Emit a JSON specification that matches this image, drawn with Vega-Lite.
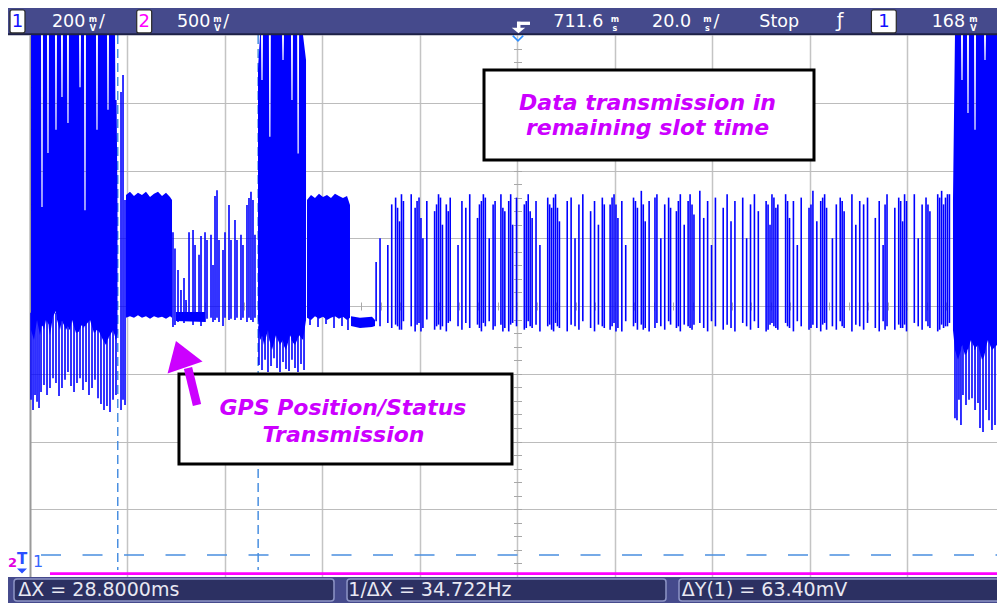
{
  "$schema": "https://vega.github.io/schema/vega-lite/v6.json",
  "width": 967,
  "height": 542,
  "autosize": "none",
  "padding": {"left": 30, "top": 35, "right": 0, "bottom": 26},
  "background": "#ffffff",
  "config": {"view": {"stroke": null}, "text": {"font": "DejaVu Sans"}},
  "data": {"values": [{}]},
  "datasets": {
    "env": [
      {"seg":"A","t":0.21,"hi":800,"lo":-71},{"seg":"A","t":0.82,"hi":800,"lo":-100},{"seg":"A","t":1.44,"hi":800,"lo":-41},{"seg":"A","t":2.05,"hi":800,"lo":-86},
      {"seg":"A","t":2.26,"hi":800,"lo":-70},{"seg":"A","t":2.34,"hi":292,"lo":-60},{"seg":"A","t":2.58,"hi":292,"lo":-58},{"seg":"A","t":2.66,"hi":800,"lo":-62},
      {"seg":"A","t":2.87,"hi":800,"lo":-71},{"seg":"A","t":3.28,"hi":800,"lo":-41},
      {"seg":"A","t":3.49,"hi":800,"lo":-50},{"seg":"A","t":3.57,"hi":452,"lo":-45},{"seg":"A","t":3.81,"hi":452,"lo":-55},{"seg":"A","t":3.89,"hi":800,"lo":-70},
      {"seg":"A","t":4.10,"hi":800,"lo":-86},{"seg":"A","t":4.72,"hi":800,"lo":-30},
      {"seg":"A","t":5.13,"hi":800,"lo":-20},{"seg":"A","t":5.21,"hi":520,"lo":-15},{"seg":"A","t":5.45,"hi":520,"lo":-25},{"seg":"A","t":5.53,"hi":800,"lo":-40},
      {"seg":"A","t":5.74,"hi":800,"lo":-50},{"seg":"A","t":6.15,"hi":800,"lo":-71},
      {"seg":"A","t":6.36,"hi":800,"lo":-55},{"seg":"A","t":6.44,"hi":617,"lo":-45},{"seg":"A","t":6.68,"hi":617,"lo":-45},{"seg":"A","t":6.76,"hi":800,"lo":-50},
      {"seg":"A","t":6.97,"hi":800,"lo":-56},{"seg":"A","t":7.38,"hi":800,"lo":-71},
      {"seg":"A","t":7.59,"hi":800,"lo":-65},{"seg":"A","t":7.67,"hi":540,"lo":-60},{"seg":"A","t":7.91,"hi":540,"lo":-62},{"seg":"A","t":7.99,"hi":800,"lo":-68},
      {"seg":"A","t":8.21,"hi":800,"lo":-71},{"seg":"A","t":8.62,"hi":800,"lo":-41},{"seg":"A","t":9.44,"hi":800,"lo":-80},
      {"seg":"A","t":10.06,"hi":800,"lo":-75},{"seg":"A","t":10.14,"hi":646,"lo":-71},{"seg":"A","t":10.38,"hi":646,"lo":-65},{"seg":"A","t":10.46,"hi":800,"lo":-60},
      {"seg":"A","t":10.67,"hi":800,"lo":-56},
      {"seg":"A","t":11.08,"hi":800,"lo":-65},{"seg":"A","t":11.16,"hi":283,"lo":-60},{"seg":"A","t":11.40,"hi":283,"lo":-58},{"seg":"A","t":11.48,"hi":800,"lo":-55},
      {"seg":"A","t":12.31,"hi":800,"lo":-41},{"seg":"A","t":13.13,"hi":800,"lo":-80},
      {"seg":"A","t":13.54,"hi":800,"lo":-75},{"seg":"A","t":13.62,"hi":520,"lo":-71},{"seg":"A","t":13.86,"hi":520,"lo":-72},{"seg":"A","t":13.94,"hi":800,"lo":-74},
      {"seg":"A","t":14.15,"hi":800,"lo":-75},{"seg":"A","t":14.97,"hi":800,"lo":-100},{"seg":"A","t":15.59,"hi":800,"lo":-115},
      {"seg":"A","t":15.80,"hi":800,"lo":-108},{"seg":"A","t":15.88,"hi":579,"lo":-100},{"seg":"A","t":16.12,"hi":579,"lo":-95},{"seg":"A","t":16.20,"hi":800,"lo":-90},
      {"seg":"A","t":16.41,"hi":800,"lo":-86},{"seg":"A","t":17.03,"hi":800,"lo":-71},
      {"seg":"A","t":17.44,"hi":800,"lo":-90},{"seg":"A","t":17.52,"hi":608,"lo":-100},{"seg":"A","t":17.76,"hi":608,"lo":-95},{"seg":"A","t":17.95,"hi":300,"lo":-80},
      {"seg":"B","t":19.69,"hi":328,"lo":-35},{"seg":"B","t":20.51,"hi":337,"lo":-30},{"seg":"B","t":21.33,"hi":325,"lo":-35},{"seg":"B","t":22.15,"hi":334,"lo":-27},{"seg":"B","t":22.97,"hi":328,"lo":-35},{"seg":"B","t":23.79,"hi":337,"lo":-30},{"seg":"B","t":24.62,"hi":322,"lo":-38},{"seg":"B","t":25.44,"hi":331,"lo":-30},{"seg":"B","t":26.26,"hi":337,"lo":-35},{"seg":"B","t":27.08,"hi":325,"lo":-32},{"seg":"B","t":27.90,"hi":334,"lo":-38},{"seg":"B","t":28.72,"hi":322,"lo":-30},{"seg":"B","t":29.13,"hi":313,"lo":-35},
      {"seg":"G","t":29.95,"hi":-18,"lo":-44},{"seg":"G","t":35.90,"hi":-18,"lo":-47},
      {"seg":"C","t":46.77,"hi":700,"lo":-41},{"seg":"C","t":47.18,"hi":800,"lo":-100},
      {"seg":"C","t":47.39,"hi":800,"lo":-95},{"seg":"C","t":47.47,"hi":667,"lo":-90},{"seg":"C","t":47.71,"hi":667,"lo":-90},{"seg":"C","t":47.79,"hi":800,"lo":-100},
      {"seg":"C","t":48.00,"hi":800,"lo":-115},{"seg":"C","t":48.82,"hi":800,"lo":-71},
      {"seg":"C","t":49.00,"hi":800,"lo":-90},{"seg":"C","t":49.08,"hi":500,"lo":-100},{"seg":"C","t":49.32,"hi":500,"lo":-110},{"seg":"C","t":49.40,"hi":800,"lo":-120},
      {"seg":"C","t":49.64,"hi":800,"lo":-130},{"seg":"C","t":50.46,"hi":800,"lo":-86},{"seg":"C","t":51.28,"hi":800,"lo":-115},
      {"seg":"C","t":51.70,"hi":800,"lo":-105},{"seg":"C","t":51.78,"hi":726,"lo":-100},{"seg":"C","t":52.02,"hi":726,"lo":-110},{"seg":"C","t":52.10,"hi":800,"lo":-118},
      {"seg":"C","t":52.51,"hi":800,"lo":-130},{"seg":"C","t":53.33,"hi":800,"lo":-86},
      {"seg":"C","t":53.54,"hi":800,"lo":-92},{"seg":"C","t":53.62,"hi":608,"lo":-100},{"seg":"C","t":53.86,"hi":608,"lo":-105},{"seg":"C","t":53.94,"hi":800,"lo":-108},
      {"seg":"C","t":54.36,"hi":800,"lo":-115},
      {"seg":"C","t":54.80,"hi":800,"lo":-100},{"seg":"C","t":54.88,"hi":450,"lo":-95},{"seg":"C","t":55.12,"hi":450,"lo":-90},{"seg":"C","t":55.20,"hi":800,"lo":-86},
      {"seg":"C","t":56.00,"hi":800,"lo":-100},{"seg":"C","t":56.62,"hi":726,"lo":-41},
      {"seg":"D","t":56.82,"hi":313,"lo":-35},{"seg":"D","t":57.64,"hi":328,"lo":-41},{"seg":"D","t":58.46,"hi":319,"lo":-30},{"seg":"D","t":59.28,"hi":331,"lo":-38},{"seg":"D","t":60.10,"hi":322,"lo":-32},{"seg":"D","t":60.92,"hi":328,"lo":-41},{"seg":"D","t":61.74,"hi":319,"lo":-35},{"seg":"D","t":62.56,"hi":331,"lo":-30},{"seg":"D","t":63.38,"hi":325,"lo":-38},{"seg":"D","t":64.20,"hi":319,"lo":-32},{"seg":"D","t":65.03,"hi":325,"lo":-41},{"seg":"D","t":65.64,"hi":298,"lo":-35},
      {"seg":"E","t":65.85,"hi":-30,"lo":-59},{"seg":"E","t":67.69,"hi":-35,"lo":-65},{"seg":"E","t":70.15,"hi":-32,"lo":-62},{"seg":"E","t":70.77,"hi":-41,"lo":-59},
      {"seg":"F","t":189.33,"hi":313,"lo":-71},{"seg":"F","t":189.74,"hi":800,"lo":-130},{"seg":"F","t":190.36,"hi":800,"lo":-159},
      {"seg":"F","t":190.98,"hi":800,"lo":-130},{"seg":"F","t":191.06,"hi":667,"lo":-120},{"seg":"F","t":191.30,"hi":667,"lo":-115},{"seg":"F","t":191.38,"hi":800,"lo":-125},
      {"seg":"F","t":191.79,"hi":800,"lo":-145},
      {"seg":"F","t":192.21,"hi":800,"lo":-138},{"seg":"F","t":192.29,"hi":570,"lo":-130},{"seg":"F","t":192.53,"hi":570,"lo":-125},{"seg":"F","t":192.61,"hi":800,"lo":-118},
      {"seg":"F","t":193.03,"hi":800,"lo":-100},
      {"seg":"F","t":193.65,"hi":800,"lo":-120},{"seg":"F","t":193.73,"hi":520,"lo":-130},{"seg":"F","t":193.97,"hi":520,"lo":-128},{"seg":"F","t":194.05,"hi":800,"lo":-122},
      {"seg":"F","t":194.46,"hi":800,"lo":-115},{"seg":"F","t":195.28,"hi":800,"lo":-159},
      {"seg":"F","t":195.70,"hi":800,"lo":-150},{"seg":"F","t":195.78,"hi":726,"lo":-145},{"seg":"F","t":196.02,"hi":726,"lo":-130},{"seg":"F","t":196.10,"hi":800,"lo":-120},
      {"seg":"F","t":196.51,"hi":800,"lo":-100},{"seg":"F","t":197.33,"hi":800,"lo":-130},{"seg":"F","t":198.36,"hi":800,"lo":-115}
    ],
    "pulses": [
      {"t":0.21,"hi":-20,"lo":-277},{"t":0.62,"hi":-20,"lo":-307},{"t":1.03,"hi":-20,"lo":-263},{"t":1.44,"hi":-20,"lo":-283},{"t":1.85,"hi":-20,"lo":-301},{"t":2.26,"hi":-20,"lo":-254},{"t":2.87,"hi":-20,"lo":-233},{"t":3.49,"hi":-20,"lo":-263},{"t":4.10,"hi":-20,"lo":-242},{"t":4.72,"hi":-20,"lo":-213},{"t":5.33,"hi":-20,"lo":-227},{"t":5.95,"hi":-20,"lo":-266},{"t":6.56,"hi":-20,"lo":-242},{"t":7.18,"hi":-20,"lo":-218},{"t":7.79,"hi":-20,"lo":-195},{"t":8.41,"hi":-20,"lo":-236},{"t":9.03,"hi":-20,"lo":-254},{"t":9.64,"hi":-20,"lo":-227},{"t":10.26,"hi":-20,"lo":-213},{"t":10.87,"hi":-20,"lo":-248},{"t":11.49,"hi":-20,"lo":-224},{"t":12.10,"hi":-20,"lo":-263},{"t":12.72,"hi":-20,"lo":-242},{"t":13.33,"hi":-20,"lo":-218},{"t":13.95,"hi":-20,"lo":-272},{"t":14.56,"hi":-20,"lo":-289},{"t":15.18,"hi":-20,"lo":-307},{"t":15.79,"hi":-20,"lo":-295},{"t":16.41,"hi":-20,"lo":-313},{"t":17.03,"hi":-20,"lo":-277},{"t":17.64,"hi":-20,"lo":-263},
      {"t":18.67,"hi":632,"lo":-307},{"t":19.08,"hi":682,"lo":-277},{"t":19.49,"hi":313,"lo":-292},
      {"t":29.33,"hi":218,"lo":-62},{"t":29.74,"hi":170,"lo":-56},
      {"t":30.36,"hi":106,"lo":-47},{"t":30.97,"hi":47,"lo":-44},{"t":31.59,"hi":83,"lo":-50},{"t":32.00,"hi":18,"lo":-44},
      {"t":32.62,"hi":218,"lo":-41},{"t":33.44,"hi":224,"lo":-56},{"t":33.85,"hi":180,"lo":-41},{"t":34.67,"hi":151,"lo":-35},{"t":35.08,"hi":207,"lo":-59},{"t":35.90,"hi":218,"lo":-47},{"t":36.31,"hi":195,"lo":-38},{"t":37.13,"hi":210,"lo":-35},{"t":37.54,"hi":121,"lo":-47},{"t":37.95,"hi":325,"lo":-41},{"t":38.36,"hi":342,"lo":-35},{"t":38.77,"hi":195,"lo":-47},{"t":39.59,"hi":165,"lo":-59},{"t":40.00,"hi":218,"lo":-35},{"t":40.82,"hi":298,"lo":-41},{"t":41.23,"hi":195,"lo":-38},{"t":42.05,"hi":254,"lo":-41},{"t":42.46,"hi":195,"lo":-35},{"t":43.28,"hi":210,"lo":-41},{"t":43.69,"hi":180,"lo":-35},{"t":44.51,"hi":298,"lo":-47},{"t":44.92,"hi":319,"lo":-35},{"t":45.33,"hi":337,"lo":-41},{"t":45.74,"hi":313,"lo":-47},{"t":46.15,"hi":210,"lo":-35},
      {"t":46.97,"hi":-60,"lo":-174},{"t":47.59,"hi":-60,"lo":-189},{"t":48.21,"hi":-60,"lo":-159},{"t":48.82,"hi":-60,"lo":-195},{"t":49.44,"hi":-60,"lo":-177},{"t":50.05,"hi":-60,"lo":-154},{"t":50.67,"hi":-60,"lo":-183},{"t":51.28,"hi":-60,"lo":-195},{"t":51.90,"hi":-60,"lo":-165},{"t":52.51,"hi":-60,"lo":-186},{"t":53.13,"hi":-60,"lo":-192},{"t":53.74,"hi":-60,"lo":-159},{"t":54.36,"hi":-60,"lo":-183},{"t":54.97,"hi":-60,"lo":-195},{"t":55.59,"hi":-60,"lo":-171},{"t":56.21,"hi":-60,"lo":-189},
      {"t":57.44,"hi":-20,"lo":-56},{"t":59.08,"hi":-20,"lo":-62},{"t":60.72,"hi":-20,"lo":-53},{"t":62.36,"hi":-20,"lo":-65},{"t":64.00,"hi":-20,"lo":-59},{"t":65.23,"hi":-20,"lo":-71},
      {"t":71.0,"hi":130,"lo":-45},{"t":71.8,"hi":200,"lo":-60},{"t":73.4,"hi":180,"lo":-50},{"t":74.2,"hi":300,"lo":-65},{"t":75.0,"hi":320,"lo":-55},{"t":75.4,"hi":290,"lo":-60},{"t":75.8,"hi":250,"lo":-70},{"t":76.2,"hi":330,"lo":-70},{"t":76.6,"hi":310,"lo":-45},{"t":78.2,"hi":330,"lo":-60},{"t":79.0,"hi":290,"lo":-75},{"t":79.4,"hi":310,"lo":-55},{"t":79.8,"hi":320,"lo":-50},{"t":80.2,"hi":260,"lo":-75},{"t":80.6,"hi":200,"lo":-65},{"t":81.4,"hi":310,"lo":-40},{"t":83.0,"hi":280,"lo":-70},{"t":83.4,"hi":300,"lo":-60},{"t":83.8,"hi":330,"lo":-55},{"t":84.2,"hi":320,"lo":-70},{"t":84.6,"hi":240,"lo":-60},{"t":85.4,"hi":300,"lo":-75},{"t":85.8,"hi":280,"lo":-50},{"t":86.2,"hi":320,"lo":-45},{"t":87.8,"hi":180,"lo":-60},{"t":88.6,"hi":310,"lo":-70},{"t":89.4,"hi":290,"lo":-50},{"t":90.2,"hi":330,"lo":-65},{"t":91.8,"hi":260,"lo":-55},{"t":92.2,"hi":300,"lo":-65},{"t":92.6,"hi":310,"lo":-75},{"t":93.0,"hi":330,"lo":-50},{"t":93.4,"hi":320,"lo":-60},{"t":94.2,"hi":200,"lo":-45},{"t":95.0,"hi":300,"lo":-70},{"t":95.4,"hi":310,"lo":-60},{"t":96.6,"hi":330,"lo":-55},{"t":97.0,"hi":290,"lo":-75},{"t":97.4,"hi":280,"lo":-65},{"t":98.2,"hi":310,"lo":-75},{"t":98.6,"hi":330,"lo":-55},{"t":99.0,"hi":240,"lo":-50},{"t":99.8,"hi":320,"lo":-60},{"t":101.4,"hi":300,"lo":-70},{"t":101.8,"hi":310,"lo":-65},{"t":102.2,"hi":330,"lo":-45},{"t":102.6,"hi":280,"lo":-60},{"t":103.0,"hi":260,"lo":-65},{"t":103.8,"hi":310,"lo":-55},{"t":104.6,"hi":180,"lo":-75},{"t":106.2,"hi":320,"lo":-60},{"t":106.6,"hi":300,"lo":-55},{"t":107.0,"hi":290,"lo":-70},{"t":107.4,"hi":320,"lo":-75},{"t":107.8,"hi":330,"lo":-50},{"t":108.2,"hi":290,"lo":-60},{"t":108.6,"hi":250,"lo":-65},{"t":110.2,"hi":310,"lo":-75},{"t":111.0,"hi":320,"lo":-55},{"t":111.8,"hi":200,"lo":-60},{"t":112.6,"hi":300,"lo":-70},{"t":113.4,"hi":330,"lo":-45},{"t":115.0,"hi":280,"lo":-65},{"t":115.8,"hi":310,"lo":-75},{"t":116.6,"hi":240,"lo":-55},{"t":117.4,"hi":320,"lo":-60},{"t":117.8,"hi":300,"lo":-65},{"t":119.0,"hi":300,"lo":-70},{"t":119.4,"hi":320,"lo":-60},{"t":119.8,"hi":330,"lo":-50},{"t":120.2,"hi":300,"lo":-75},{"t":120.6,"hi":260,"lo":-65},{"t":121.4,"hi":310,"lo":-75},{"t":122.2,"hi":180,"lo":-45},{"t":123.8,"hi":320,"lo":-60},{"t":124.2,"hi":310,"lo":-50},{"t":124.6,"hi":290,"lo":-70},{"t":125.4,"hi":340,"lo":-55},{"t":125.8,"hi":300,"lo":-70},{"t":126.2,"hi":250,"lo":-65},{"t":127.0,"hi":310,"lo":-75},{"t":128.2,"hi":320,"lo":-65},{"t":128.6,"hi":330,"lo":-50},{"t":129.4,"hi":200,"lo":-60},{"t":130.2,"hi":300,"lo":-70},{"t":131.0,"hi":320,"lo":-45},{"t":131.4,"hi":290,"lo":-55},{"t":132.6,"hi":280,"lo":-65},{"t":133.0,"hi":310,"lo":-60},{"t":133.4,"hi":330,"lo":-75},{"t":134.2,"hi":240,"lo":-55},{"t":135.0,"hi":310,"lo":-60},{"t":135.4,"hi":330,"lo":-65},{"t":135.8,"hi":300,"lo":-70},{"t":136.2,"hi":270,"lo":-55},{"t":137.4,"hi":340,"lo":-50},{"t":138.2,"hi":260,"lo":-65},{"t":139.0,"hi":310,"lo":-75},{"t":139.8,"hi":180,"lo":-45},{"t":140.6,"hi":320,"lo":-60},{"t":142.2,"hi":290,"lo":-70},{"t":143.0,"hi":330,"lo":-55},{"t":143.8,"hi":250,"lo":-65},{"t":144.6,"hi":310,"lo":-75},{"t":146.2,"hi":320,"lo":-50},{"t":147.0,"hi":200,"lo":-60},{"t":147.8,"hi":300,"lo":-70},{"t":148.6,"hi":330,"lo":-45},{"t":149.4,"hi":280,"lo":-65},{"t":151.0,"hi":310,"lo":-75},{"t":151.4,"hi":300,"lo":-70},{"t":151.8,"hi":240,"lo":-55},{"t":152.2,"hi":330,"lo":-50},{"t":152.6,"hi":320,"lo":-60},{"t":153.0,"hi":290,"lo":-65},{"t":153.4,"hi":300,"lo":-70},{"t":155.0,"hi":330,"lo":-50},{"t":155.4,"hi":310,"lo":-60},{"t":155.8,"hi":260,"lo":-65},{"t":156.6,"hi":310,"lo":-75},{"t":157.4,"hi":180,"lo":-45},{"t":158.2,"hi":320,"lo":-60},{"t":159.8,"hi":290,"lo":-70},{"t":160.2,"hi":300,"lo":-65},{"t":160.6,"hi":340,"lo":-55},{"t":161.4,"hi":250,"lo":-65},{"t":162.2,"hi":310,"lo":-75},{"t":162.6,"hi":320,"lo":-55},{"t":163.0,"hi":330,"lo":-50},{"t":163.4,"hi":290,"lo":-70},{"t":164.6,"hi":200,"lo":-60},{"t":165.4,"hi":300,"lo":-70},{"t":166.2,"hi":320,"lo":-45},{"t":166.6,"hi":310,"lo":-60},{"t":167.0,"hi":280,"lo":-65},{"t":168.6,"hi":330,"lo":-75},{"t":169.4,"hi":240,"lo":-55},{"t":170.2,"hi":310,"lo":-60},{"t":171.0,"hi":300,"lo":-70},{"t":171.8,"hi":320,"lo":-50},{"t":173.4,"hi":260,"lo":-65},{"t":174.2,"hi":310,"lo":-75},{"t":175.0,"hi":180,"lo":-45},{"t":175.4,"hi":300,"lo":-70},{"t":175.8,"hi":330,"lo":-60},{"t":177.4,"hi":290,"lo":-70},{"t":178.2,"hi":320,"lo":-55},{"t":178.6,"hi":310,"lo":-65},{"t":179.0,"hi":250,"lo":-65},{"t":179.4,"hi":330,"lo":-55},{"t":179.8,"hi":310,"lo":-75},{"t":181.4,"hi":330,"lo":-50},{"t":182.2,"hi":200,"lo":-60},{"t":183.0,"hi":300,"lo":-70},{"t":183.8,"hi":320,"lo":-45},{"t":184.2,"hi":300,"lo":-60},{"t":184.6,"hi":280,"lo":-65},{"t":186.2,"hi":330,"lo":-75},{"t":186.6,"hi":320,"lo":-70},{"t":187.0,"hi":340,"lo":-55},{"t":187.4,"hi":300,"lo":-65},{"t":187.8,"hi":320,"lo":-60},{"t":188.2,"hi":330,"lo":-60},{"t":188.6,"hi":330,"lo":-50},
      {"t":189.74,"hi":-80,"lo":-331},{"t":190.15,"hi":-80,"lo":-337},{"t":190.56,"hi":-80,"lo":-277},{"t":190.97,"hi":-80,"lo":-351},{"t":191.38,"hi":-80,"lo":-263},{"t":192.00,"hi":-80,"lo":-292},{"t":192.62,"hi":-80,"lo":-277},{"t":193.23,"hi":-80,"lo":-272},{"t":193.85,"hi":-80,"lo":-307},{"t":194.46,"hi":-80,"lo":-286},{"t":194.87,"hi":-80,"lo":-360},{"t":195.49,"hi":-80,"lo":-372},{"t":196.10,"hi":-80,"lo":-307},{"t":196.72,"hi":-80,"lo":-337},{"t":197.33,"hi":-80,"lo":-366},{"t":197.95,"hi":-80,"lo":-351}
    ]
  },
  "resolve": {"axis": {"x": "independent", "y": "independent"}},
  "layer": [
    {
      "data": {"values": [{"t": 18.0}, {"t": 46.8}]},
      "mark": {"type": "rule", "color": "#4a8fe0", "strokeWidth": 1.5, "strokeDash": [9, 5]},
      "encoding": {
        "x": {"field": "t", "type": "quantitative", "scale": {"domain": [0, 198.36], "nice": false, "zero": false}, "axis": null, "title": null},
        "y": {"datum": 800, "type": "quantitative", "scale": {"domain": [-800, 800], "nice": false, "zero": false}, "axis": null},
        "y2": {"datum": -779}
      }
    },
    {
      "mark": {"type": "rule", "color": "#4a8fe0", "strokeWidth": 1.3, "strokeDash": [20, 21.5]},
      "encoding": {"x": {"datum": 2.26, "axis": null}, "x2": {"datum": 198.36}, "y": {"datum": -735, "axis": null}}
    },
    {
      "data": {"name": "env"},
      "mark": {"type": "area", "color": "#0000ff", "opacity": 1},
      "encoding": {
        "x": {"field": "t", "type": "quantitative", "title": null, "axis": {"values": [20, 40, 60, 80, 100, 120, 140, 160, 180], "grid": true, "gridColor": "#c4c4c4", "gridWidth": 1.5, "domain": false, "ticks": false, "labels": false}},
        "y": {"field": "hi", "type": "quantitative", "title": null, "axis": {"values": [-600, -400, -200, 0, 200, 400, 600], "grid": true, "gridColor": "#bcbcbc", "gridWidth": 1.2, "domain": true, "domainColor": "#9a9a9a", "domainWidth": 2, "ticks": false, "labels": false}},
        "y2": {"field": "lo"},
        "detail": {"field": "seg"}
      }
    },
    {
      "data": {"name": "pulses"},
      "mark": {"type": "rule", "color": "#0000ff", "strokeWidth": 1.6},
      "encoding": {
        "x": {"field": "t", "type": "quantitative", "title": null, "axis": {"orient": "bottom", "offset": -275, "values": [4,8,12,16,20,24,28,32,36,40,44,48,52,56,60,64,68,72,76,80,84,88,92,96,100,104,108,112,116,120,124,128,132,136,140,144,148,152,156,160,164,168,172,176,180,184,188,192,196], "grid": false, "domain": false, "ticks": true, "tickSize": 8, "tickColor": "#a8a8a8", "tickWidth": 1, "labels": false}},
        "y": {"field": "hi", "type": "quantitative", "title": null, "axis": {"orient": "left", "offset": -491.5, "values": [-760,-720,-680,-640,-600,-560,-520,-480,-440,-400,-360,-320,-280,-240,-200,-160,-120,-80,-40,0,40,80,120,160,200,240,280,320,360,400,440,480,520,560,600,640,680,720,760], "grid": false, "domain": false, "ticks": true, "tickSize": 8, "tickColor": "#a8a8a8", "tickWidth": 1, "labels": false}},
        "y2": {"field": "lo"}
      }
    },
    {
      "mark": {"type": "rule", "color": "#ff00ff", "strokeWidth": 2.6},
      "encoding": {"x": {"datum": 4.1, "axis": null}, "x2": {"datum": 198.36}, "y": {"datum": -790, "axis": null}}
    },
    {
      "mark": {"type": "rect", "fill": "#ffffff", "stroke": "#000000", "strokeWidth": 3},
      "encoding": {"x": {"datum": 93.13, "axis": null}, "x2": {"datum": 160.82}, "y": {"datum": 696.7, "axis": null}, "y2": {"datum": 431}}
    },
    {
      "mark": {"type": "rect", "fill": "#ffffff", "stroke": "#000000", "strokeWidth": 3},
      "encoding": {"x": {"datum": 30.56, "axis": null}, "x2": {"datum": 98.87}, "y": {"datum": -200.7, "axis": null}, "y2": {"datum": -466.4}}
    },
    {
      "data": {"values": [
        {"t": 126.67, "v": 578.6, "label": "Data transmission in"},
        {"t": 126.67, "v": 504.8, "label": "remaining slot time"},
        {"t": 64.2, "v": -322, "label": "GPS Position/Status"},
        {"t": 64.3, "v": -400.5, "label": "Transmission"}
      ]},
      "mark": {"type": "text", "font": "DejaVu Sans", "fontSize": 22, "fontWeight": "bold", "fontStyle": "italic", "color": "#cc00ff", "align": "center", "baseline": "alphabetic"},
      "encoding": {
        "x": {"field": "t", "type": "quantitative", "axis": null, "title": null},
        "y": {"field": "v", "type": "quantitative", "axis": null, "title": null},
        "text": {"field": "label"}
      }
    },
    {
      "mark": {"type": "rule", "color": "#cc00ff", "strokeWidth": 8.5, "strokeCap": "butt"},
      "encoding": {"x": {"datum": 32.41, "axis": null}, "y": {"datum": -183, "axis": null}, "x2": {"datum": 34.26}, "y2": {"datum": -292}}
    },
    {
      "mark": {"type": "point", "shape": "M0,-0.9L0.925,0.5L-0.925,0.5Z", "size": 1600, "angle": 341, "filled": true, "color": "#cc00ff", "opacity": 1, "strokeWidth": 0},
      "encoding": {"x": {"datum": 31.14, "axis": null}, "y": {"datum": -153.5, "axis": null}}
    },
    {
      "mark": {"type": "rect", "fill": "#454a8c", "clip": false},
      "encoding": {"x": {"datum": -4.51, "axis": null}, "x2": {"datum": 205}, "y": {"datum": 880, "axis": null}, "y2": {"datum": 803}}
    },
    {
      "mark": {"type": "rule", "color": "#1d2046", "strokeWidth": 2},
      "encoding": {"x": {"datum": -4.51, "axis": null}, "x2": {"datum": 205}, "y": {"datum": 802, "axis": null}}
    },
    {
      "data": {"values": [{"a": -4.1, "b": -1.03}, {"a": 21.89, "b": 24.96}, {"a": 172.6, "b": 177.7}]},
      "mark": {"type": "rect", "fill": "#ffffff", "stroke": "#2a2a2a", "strokeWidth": 1.2, "cornerRadius": 2},
      "encoding": {"x": {"field": "a", "type": "quantitative", "axis": null, "title": null}, "x2": {"field": "b"}, "y": {"datum": 873.8, "axis": null}, "y2": {"datum": 806}}
    },
    {
      "data": {"values": [{"t": -2.56, "ch": "1"}, {"t": 23.43, "ch": "2"}, {"t": 175.15, "ch": "1"}]},
      "mark": {"type": "text", "font": "DejaVu Sans", "fontSize": 18, "align": "center", "baseline": "alphabetic"},
      "encoding": {
        "x": {"field": "t", "type": "quantitative", "axis": null, "title": null},
        "y": {"datum": 822.7, "axis": null},
        "text": {"field": "ch"},
        "color": {"field": "ch", "type": "nominal", "scale": {"domain": ["1", "2"], "range": ["#1010ff", "#ff00ff"]}, "legend": null}
      }
    },
    {
      "data": {"values": [
        {"t": 4.51, "label": "200"}, {"t": 14.15, "label": "/"}, {"t": 30.15, "label": "500"}, {"t": 39.65, "label": "/"},
        {"t": 107.35, "label": "711.6"}, {"t": 127.6, "label": "20.0"}, {"t": 140.2, "label": "/"}, {"t": 149.6, "label": "Stop"}, {"t": 184.97, "label": "168"}
      ]},
      "mark": {"type": "text", "font": "DejaVu Sans", "fontSize": 17.5, "color": "#ffffff", "align": "left", "baseline": "alphabetic"},
      "encoding": {
        "x": {"field": "t", "type": "quantitative", "axis": null, "title": null},
        "y": {"datum": 822.7, "axis": null},
        "text": {"field": "label"}
      }
    },
    {
      "data": {"values": [
        {"t": 12.9, "u": "m\nV"},
        {"t": 38.45, "u": "m\nV"},
        {"t": 120.0, "u": "m\ns"},
        {"t": 138.97, "u": "m\ns"},
        {"t": 193.5, "u": "m\nV"}
      ]},
      "mark": {"type": "text", "font": "DejaVu Sans", "fontSize": 8, "fontWeight": "bold", "color": "#ffffff", "align": "center", "baseline": "middle", "lineBreak": "\n", "lineHeight": 9},
      "encoding": {
        "x": {"field": "t", "type": "quantitative", "axis": null, "title": null},
        "y": {"datum": 845.5, "axis": null},
        "text": {"field": "u"}
      }
    },
    {
      "mark": {"type": "rule", "color": "#ffffff", "strokeWidth": 3.3},
      "encoding": {"x": {"datum": 99.9, "axis": null}, "x2": {"datum": 102.56}, "y": {"datum": 834.5, "axis": null}}
    },
    {
      "mark": {"type": "rule", "color": "#ffffff", "strokeWidth": 3.5},
      "encoding": {"x": {"datum": 100.25, "axis": null}, "y": {"datum": 839, "axis": null}, "y2": {"datum": 817}}
    },
    {
      "mark": {"type": "point", "shape": "M-1,-0.4L1,-0.4L0,0.4Z", "size": 180, "filled": true, "color": "#ffffff", "opacity": 1, "strokeWidth": 0},
      "encoding": {"x": {"datum": 100.2, "axis": null}, "y": {"datum": 813.3, "axis": null}}
    },
    {
      "mark": {"type": "point", "shape": "M-1,-0.5L0,0.5L1,-0.5", "size": 110, "filled": false, "color": "#2f8fff", "opacity": 1, "strokeWidth": 1.6},
      "encoding": {"x": {"datum": 100.1, "axis": null}, "y": {"datum": 790.3, "axis": null}}
    },
    {
      "mark": {"type": "text", "text": "ƒ", "font": "DejaVu Sans", "fontSize": 19, "color": "#ffffff", "align": "center", "baseline": "alphabetic"},
      "encoding": {"x": {"datum": 166.15, "axis": null}, "y": {"datum": 822.7, "axis": null}}
    },
    {
      "mark": {"type": "rect", "fill": "#454a8c", "clip": false},
      "encoding": {"x": {"datum": -4.51, "axis": null}, "x2": {"datum": 205}, "y": {"datum": -800, "axis": null}, "y2": {"datum": -890}}
    },
    {
      "data": {"values": [{"a": -3.28, "b": 62.36}, {"a": 65.03, "b": 130.46}, {"a": 133.13, "b": 205}]},
      "mark": {"type": "rect", "fill": "#2c3062", "stroke": "#8e95c6", "strokeWidth": 1.5, "cornerRadius": 3},
      "encoding": {"x": {"field": "a", "type": "quantitative", "axis": null, "title": null}, "x2": {"field": "b"}, "y": {"datum": -806, "axis": null}, "y2": {"datum": -871}}
    },
    {
      "data": {"values": [
        {"t": -2.4, "label": "ΔX = 28.8000ms"},
        {"t": 65.3, "label": "1/ΔX = 34.722Hz"},
        {"t": 133.7, "label": "ΔY(1) = 63.40mV"}
      ]},
      "mark": {"type": "text", "font": "DejaVu Sans", "fontSize": 19, "color": "#e8e8f2", "align": "left", "baseline": "alphabetic"},
      "encoding": {
        "x": {"field": "t", "type": "quantitative", "axis": null, "title": null},
        "y": {"datum": -857, "axis": null},
        "text": {"field": "label"}
      }
    },
    {
      "mark": {"type": "text", "text": "2", "font": "DejaVu Sans", "fontSize": 13, "fontWeight": "bold", "color": "#e000e0", "align": "center", "baseline": "middle"},
      "encoding": {"x": {"datum": -3.6, "axis": null}, "y": {"datum": -760, "axis": null}}
    },
    {
      "mark": {"type": "text", "text": "T", "font": "DejaVu Sans", "fontSize": 15, "fontWeight": "bold", "color": "#2a4fff", "align": "center", "baseline": "middle"},
      "encoding": {"x": {"datum": -1.64, "axis": null}, "y": {"datum": -748, "axis": null}}
    },
    {
      "mark": {"type": "point", "shape": "M-1,-0.5L1,-0.5L0,0.5Z", "size": 100, "filled": true, "color": "#2a4fff", "opacity": 1, "strokeWidth": 0},
      "encoding": {"x": {"datum": -1.64, "axis": null}, "y": {"datum": -782, "axis": null}}
    },
    {
      "mark": {"type": "text", "text": "1", "font": "DejaVu Sans", "fontSize": 16, "color": "#3366ff", "align": "center", "baseline": "middle"},
      "encoding": {"x": {"datum": 1.64, "axis": null}, "y": {"datum": -756, "axis": null}}
    }
  ]
}
